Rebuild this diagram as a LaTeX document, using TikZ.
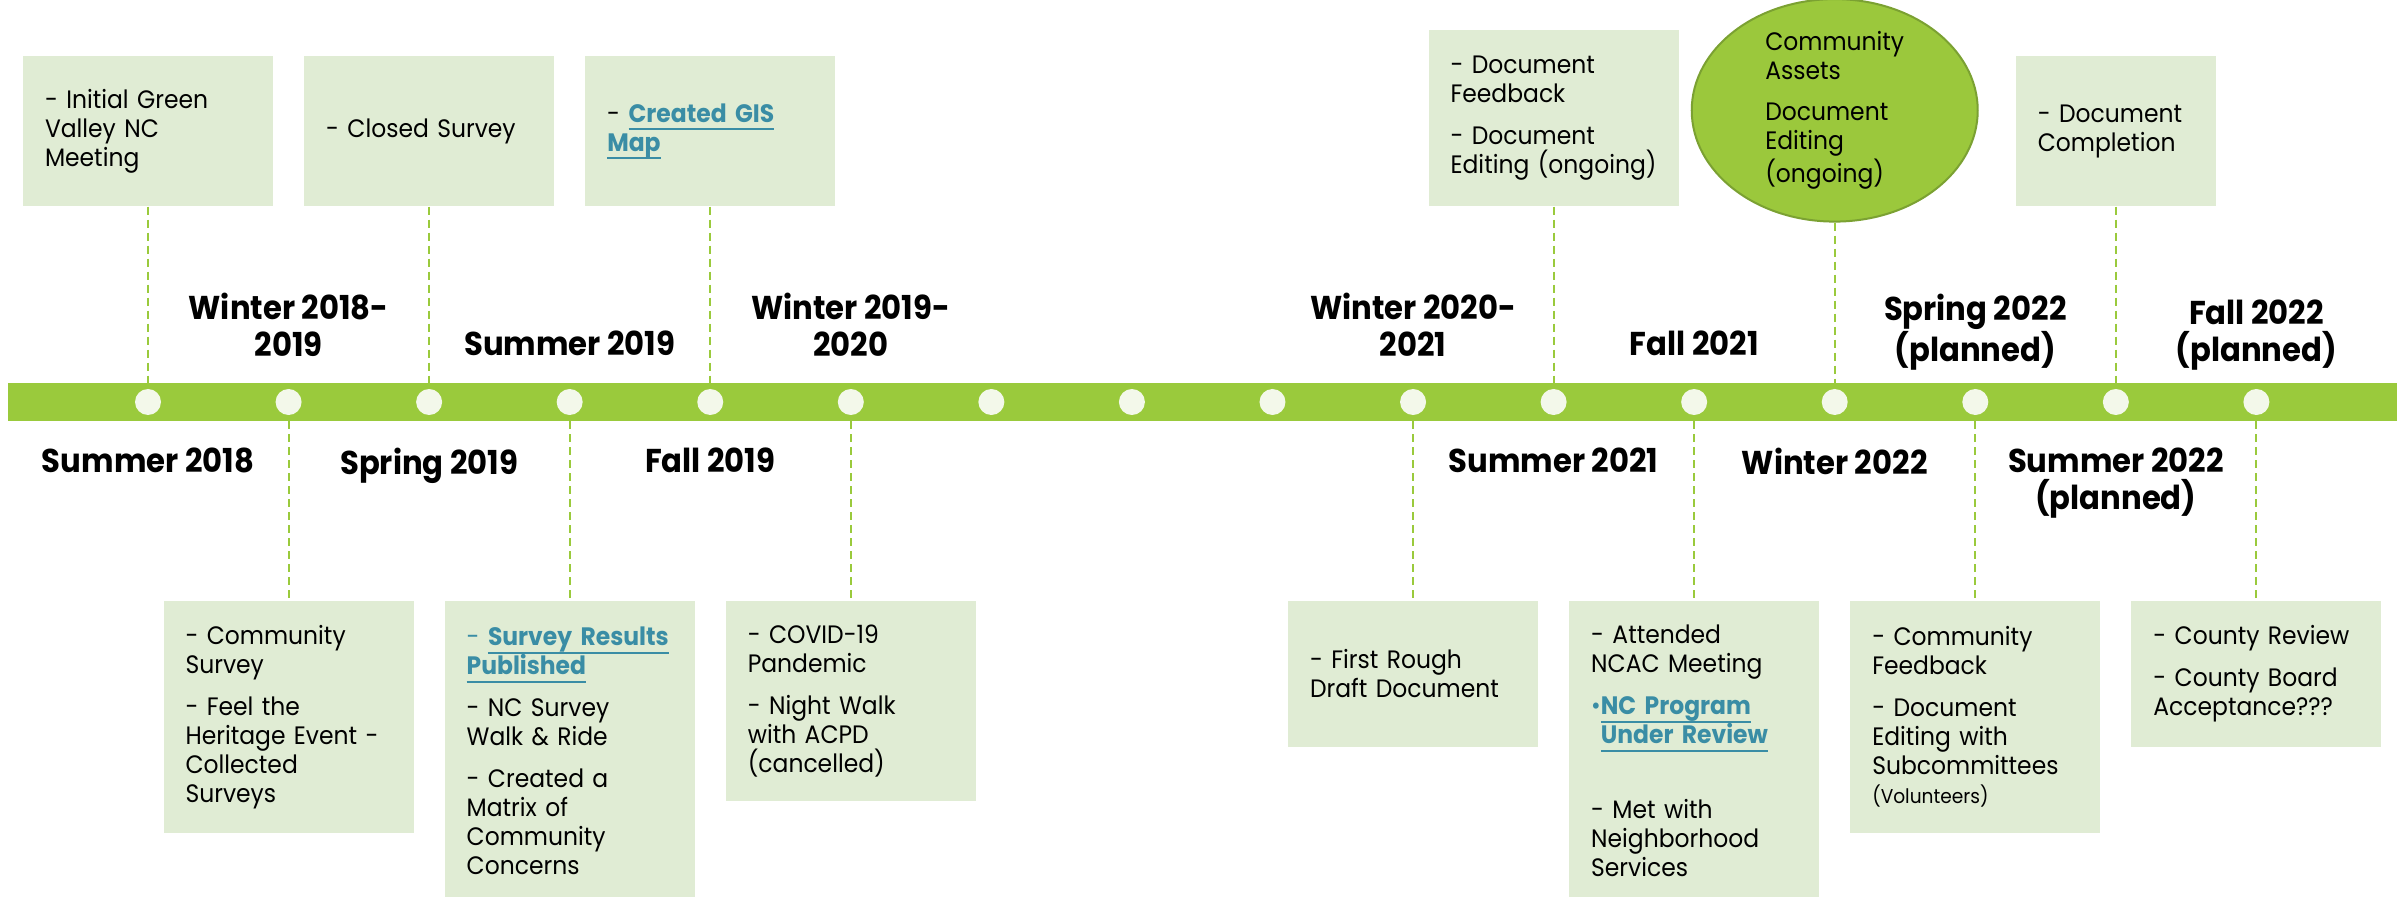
\documentclass[tikz,border=0pt]{standalone}
\usepackage{fontspec}
\setmainfont{Poppins}[FakeStretch=0.93]
\usetikzlibrary{positioning,shapes.geometric}

\definecolor{bargreen}{HTML}{9ACA3C}
\definecolor{boxgreen}{HTML}{E0ECD4}
\definecolor{dotwhite}{HTML}{F3F8EA}
\definecolor{ovalgreen}{HTML}{9BC83C}
\definecolor{ovalline}{HTML}{7BA132}
\definecolor{linkteal}{HTML}{3A8DA5}

\hyphenpenalty=10000
\exhyphenpenalty=10000
\newcommand{\lnk}[1]{\textbf{\color{linkteal}\setbox0\hbox{#1}\rlap{\rule[-4pt]{\wd0}{1pt}}\box0}}

\begin{document}
\begin{tikzpicture}[x=0.5pt, y=-0.5pt, node distance=70.28pt,
    milestone/.style={circle, fill=dotwhite, minimum size=13pt, inner sep=0pt},
    season/.style={font=\fontsize{16.5}{18.5}\selectfont\bfseries, align=center, inner sep=0pt},
    notebox/.style={rectangle, fill=boxgreen, inner xsep=11pt, inner ysep=0pt, text width=103pt, align=left, font=\fontsize{12.6}{14.5}\selectfont},
    highlight/.style={ellipse, draw=ovalline, line width=1pt, fill=ovalgreen, minimum width=143pt, minimum height=108.5pt, inner sep=0pt, align=left, font=\fontsize{12.6}{14.5}\selectfont},
    leader/.style={bargreen, line width=1pt, dash pattern=on 4pt off 2.5pt}]
        \clip (0,0) rectangle (2397,897);

        % timeline bar and its stops
        \node[fill=bargreen, minimum width=1194.5pt, minimum height=19pt, inner sep=0pt] (bar) at (1202.5,402) {};
        \node[milestone] (p0) at (148,402) {};
        \node[milestone] (p1) [right of=p0] {};
        \node[milestone] (p2) [right of=p1] {};
        \node[milestone] (p3) [right of=p2] {};
        \node[milestone] (p4) [right of=p3] {};
        \node[milestone] (p5) [right of=p4] {};
        \node[milestone] (p6) [right of=p5] {};
        \node[milestone] (p7) [right of=p6] {};
        \node[milestone] (p8) [right of=p7] {};
        \node[milestone] (p9) [right of=p8] {};
        \node[milestone] (p10) [right of=p9] {};
        \node[milestone] (p11) [right of=p10] {};
        \node[milestone] (p12) [right of=p11] {};
        \node[milestone] (p13) [right of=p12] {};
        \node[milestone] (p14) [right of=p13] {};
        \node[milestone] (p15) [right of=p14] {};

        % seasons
        \node[season, below=16pt of p0] (summer18) {Summer 2018};
        \node[season, above=16pt of p1] (winter1819) {Winter 2018-\\2019};
        \node[season, below=16pt of p2] (spring19) {Spring 2019};
        \node[season, above=16pt of p3] (summer19) {Summer 2019};
        \node[season, below=16pt of p4] (fall19) {Fall 2019};
        \node[season, above=16pt of p5] (winter1920) {Winter 2019-\\2020};
        \node[season, above=16pt of p9] (winter2021) {Winter 2020-\\2021};
        \node[season, below=16pt of p10] (summer21) {Summer 2021};
        \node[season, above=16pt of p11] (fall21) {Fall 2021};
        \node[season, below=16pt of p12] (winter22) {Winter 2022};
        \node[season, above=9pt of p13] (spring22) {Spring 2022\\(planned)};
        \node[season, below=16pt of p14] (summer22) {Summer 2022\\(planned)};
        \node[season, above=9pt of p15] (fall22) {Fall 2022\\(planned)};

        % notes above the bar
        \node[notebox, minimum height=75pt, above=91pt of p0] (meeting) {- Initial Green\\Valley NC\\Meeting};
        \node[notebox, minimum height=75pt, above=91pt of p2] (closed) {- Closed Survey};
        \node[notebox, minimum height=75pt, above=91pt of p4] (gismap) {- \lnk{Created GIS}\\\lnk{Map}};
        \node[notebox, minimum height=88pt, above=91pt of p10] (feedback) {- Document\\Feedback\\[6.5pt]- Document\\Editing (ongoing)};
        \node[highlight, above=83pt of p12] (assets) {Community\\Assets\\[6pt]Document\\Editing\\(ongoing)};
        \node[notebox, text width=78pt, minimum height=75pt, above=91pt of p14] (completion) {- Document\\Completion};

        % notes below the bar
        \node[notebox, minimum height=116pt, below=92.5pt of p1] (survey) {- Community\\Survey\\[6.5pt]- Feel the\\Heritage Event -\\Collected\\Surveys};
        \node[notebox, minimum height=150pt, below=92.5pt of p3] (results) {{\color{linkteal}- }\lnk{Survey Results}\\\lnk{Published}\\[6.5pt]- NC Survey\\Walk \& Ride\\[6.5pt]- Created a\\Matrix of\\Community\\Concerns};
        \node[notebox, minimum height=100pt, below=92.5pt of p5] (covid) {- COVID-19\\Pandemic\\[6.5pt]- Night Walk\\with ACPD\\(cancelled)};
        \node[notebox, minimum height=73pt, below=92.5pt of p9] (draft) {- First Rough\\Draft Document};
        \node[notebox, minimum height=150pt, below=92.5pt of p11] (ncac) {- Attended\\NCAC Meeting\\[6.5pt]{\color{linkteal}\textbullet}\lnk{NC Program}\\\hphantom{\textbullet}\lnk{Under Review}\\[23pt]- Met with\\Neighborhood\\Services};
        \node[notebox, minimum height=116pt, below=92.5pt of p13] (subcomm) {- Community\\Feedback\\[6.5pt]- Document\\Editing with\\Subcommittees\\{\fontsize{10}{12}\selectfont(Volunteers)}};
        \node[notebox, minimum height=73pt, below=92.5pt of p15] (county) {- County Review\\[6.5pt]- County Board\\Acceptance???};

        \draw[leader] (meeting) -- (meeting |- bar.north);
        \draw[leader] (closed) -- (closed |- bar.north);
        \draw[leader] (gismap) -- (gismap |- bar.north);
        \draw[leader] (feedback) -- (feedback |- bar.north);
        \draw[leader] (assets) -- (assets |- bar.north);
        \draw[leader] (completion) -- (completion |- bar.north);
        \draw[leader] (bar.south -| survey) -- (survey);
        \draw[leader] (bar.south -| results) -- (results);
        \draw[leader] (bar.south -| covid) -- (covid);
        \draw[leader] (bar.south -| draft) -- (draft);
        \draw[leader] (bar.south -| ncac) -- (ncac);
        \draw[leader] (bar.south -| subcomm) -- (subcomm);
        \draw[leader] (bar.south -| county) -- (county);
\end{tikzpicture}
\end{document}
